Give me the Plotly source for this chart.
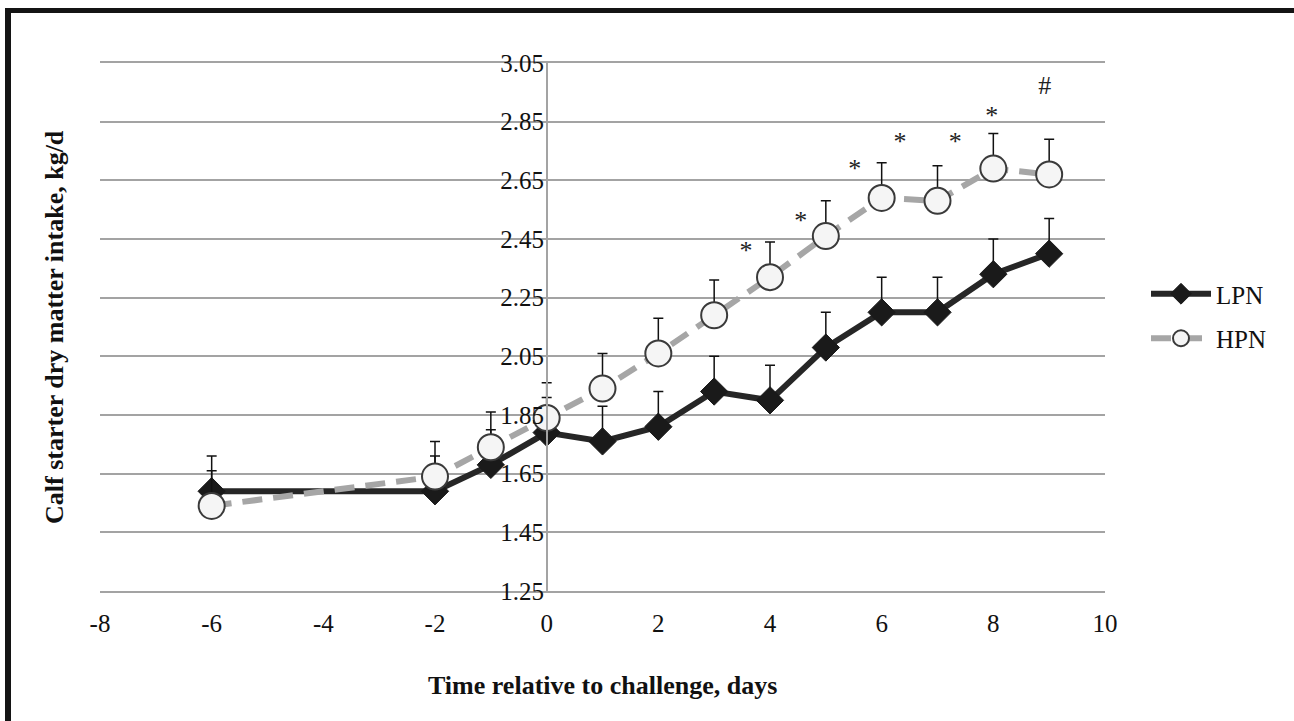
import plotly.graph_objects as go

days = [-6, -2, -1, 0, 1, 2, 3, 4, 5, 6, 7, 8, 9]
lpn = [1.59, 1.59, 1.68, 1.79, 1.76, 1.81, 1.93, 1.90, 2.08, 2.20, 2.20, 2.33, 2.40]
lpn_se = [0.12, 0.12, 0.12, 0.12, 0.12, 0.12, 0.12, 0.12, 0.12, 0.12, 0.12, 0.12, 0.12]
hpn = [1.54, 1.64, 1.74, 1.84, 1.94, 2.06, 2.19, 2.32, 2.46, 2.59, 2.58, 2.69, 2.67]
hpn_se = [0.12, 0.12, 0.12, 0.12, 0.12, 0.12, 0.12, 0.12, 0.12, 0.12, 0.12, 0.12, 0.12]

sig_x = [3.57, 4.55, 5.52, 6.33, 7.32, 7.97, 8.92]
sig_y = [2.405, 2.505, 2.685, 2.775, 2.775, 2.865, 2.965]
sig_text = ["*", "*", "*", "*", "*", "*", "#"]

y_ticks = [1.25, 1.45, 1.65, 1.85, 2.05, 2.25, 2.45, 2.65, 2.85, 3.05]
x_ticks = [-8, -6, -4, -2, 0, 2, 4, 6, 8, 10]

W, H = 1294, 721
L, R, T, B = 100, 1105, 63, 591
FONT = "Liberation Serif"
GRID = "#a3a3a3"


def px(x):
    return (x - L) / (R - L)


def py(y):
    return (B - y) / (B - T)


fig = go.Figure()

fig.add_trace(go.Scatter(
    x=days, y=lpn, name="LPN", mode="lines+markers", legendgroup="a",
    line=dict(color="#262626", width=6),
    marker=dict(symbol="diamond", size=21, color="#1a1a1a",
                line=dict(color="#1a1a1a", width=1)),
    error_y=dict(type="data", array=lpn_se, arrayminus=[0] * len(lpn_se),
                 symmetric=False, color="#111111", thickness=1.5, width=5),
))
fig.add_trace(go.Scatter(
    x=days, y=hpn, name="HPN", mode="lines+markers", legendgroup="b",
    line=dict(color="#a6a6a6", width=6, dash="20px,11px"),
    marker=dict(symbol="circle", size=26, color="#f5f5f5",
                line=dict(color="#3a3a3a", width=2)),
    error_y=dict(type="data", array=hpn_se, arrayminus=[0] * len(hpn_se),
                 symmetric=False, color="#111111", thickness=1.5, width=5),
))
fig.add_trace(go.Scatter(
    x=sig_x, y=sig_y, text=sig_text, mode="text", showlegend=False,
    textfont=dict(family=FONT, size=26, color="#222222"), hoverinfo="skip",
))

shapes = [
    dict(type="rect", xref="paper", yref="paper",
         x0=px(5), x1=px(11), y0=py(W), y1=py(8),
         fillcolor="#141414", line=dict(width=0), layer="above"),
    dict(type="rect", xref="paper", yref="paper",
         x0=px(5), x1=px(W + 5), y0=py(13), y1=py(8),
         fillcolor="#141414", line=dict(width=0), layer="above"),
]

annotations = [
    dict(text="<b>Time relative to challenge, days</b>", xref="paper", yref="paper",
         x=px(602), y=py(685), showarrow=False, xanchor="center", yanchor="middle",
         font=dict(family=FONT, size=26, color="#111111")),
    dict(text="<b>Calf starter dry matter intake, kg/d</b>", xref="paper", yref="paper",
         x=px(54), y=py(327), showarrow=False, xanchor="center", yanchor="middle",
         textangle=-90, font=dict(family=FONT, size=26, color="#111111")),
]

fig.update_layout(
    width=W, height=H,
    margin=dict(l=L, r=W - R, t=T, b=H - B),
    paper_bgcolor="white", plot_bgcolor="white",
    font=dict(family=FONT, size=25, color="#111111"),
    shapes=shapes, annotations=annotations,
    legend=dict(x=px(1146), y=py(316), xanchor="left", yanchor="middle",
                font=dict(family=FONT, size=25, color="#111111"),
                tracegroupgap=9, itemwidth=60, bgcolor="rgba(0,0,0,0)"),
    xaxis=dict(range=[-8, 10], tickvals=x_ticks, ticktext=[str(v) for v in x_ticks],
               showgrid=False, zeroline=False, showline=True, mirror=True,
               linecolor=GRID, linewidth=1.5, ticks="", ticklabelstandoff=9,
               tickfont=dict(family=FONT, size=25, color="#111111")),
    yaxis=dict(range=[1.25, 3.05], tickvals=y_ticks,
               ticktext=[f"{v:.2f}" for v in y_ticks],
               anchor="free", position=8 / 18, showgrid=True, gridcolor=GRID,
               gridwidth=1.5, zeroline=False, showline=True, linecolor=GRID,
               linewidth=1.5, ticks="", ticklabelstandoff=-3,
               tickfont=dict(family=FONT, size=25, color="#111111")),
)

fig.write_html("out.html")
